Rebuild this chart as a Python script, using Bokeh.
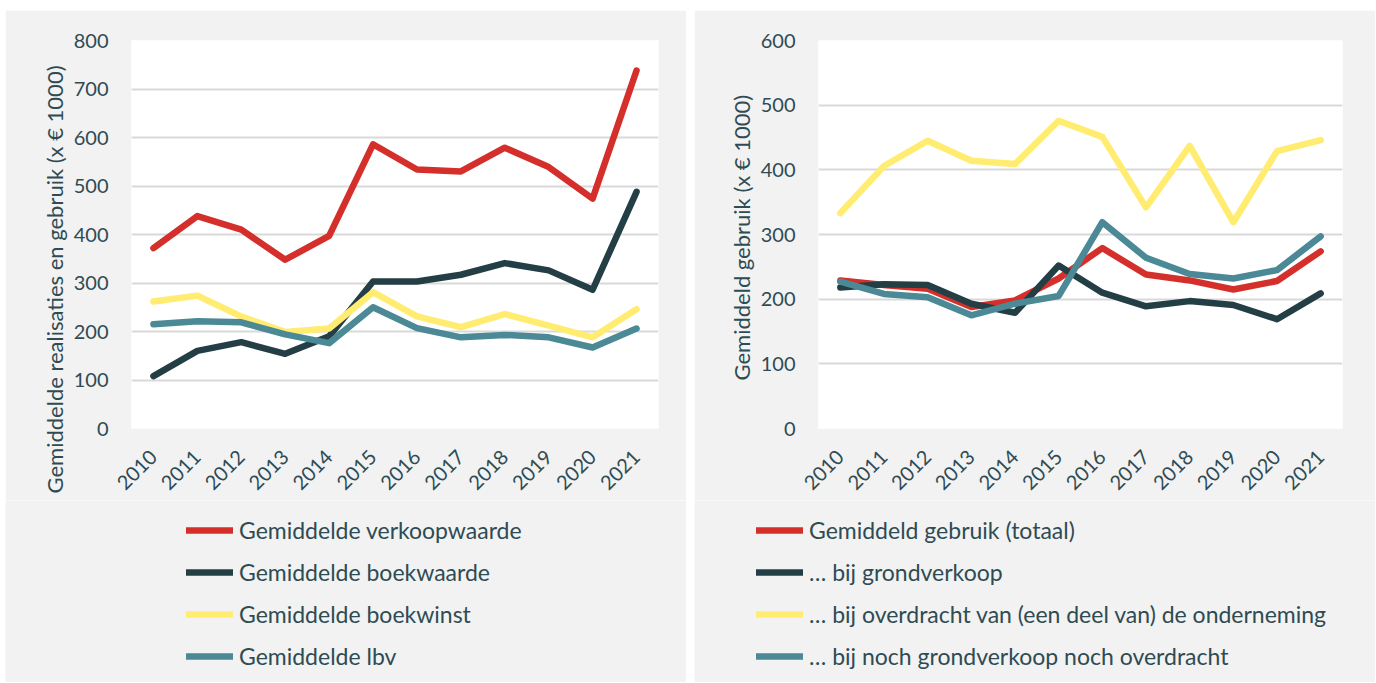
import math
from bokeh.plotting import figure
from bokeh.models import Legend, LegendItem, Title, Range1d, FactorRange
from bokeh.layouts import row
from bokeh.embed import file_html
from bokeh.resources import INLINE

years = ["2010", "2011", "2012", "2013", "2014", "2015", "2016", "2017", "2018", "2019", "2020", "2021"]

# Left chart: realisaties
verkoopwaarde = [372, 438, 410, 348, 397, 586, 534, 530, 579, 539, 474, 738]
boekwaarde = [108, 160, 178, 154, 190, 303, 303, 317, 341, 326, 286, 488]
boekwinst = [262, 274, 231, 199, 206, 281, 231, 209, 236, 212, 188, 246]
lbv = [215, 221, 219, 194, 176, 250, 207, 188, 193, 188, 167, 206]

# Right chart: gebruik
gebruik_totaal = [229, 222, 216, 188, 198, 232, 279, 238, 229, 215, 228, 274]
gebruik_grondverkoop = [218, 223, 222, 193, 179, 252, 210, 189, 197, 191, 169, 209]
gebruik_overdracht = [333, 406, 445, 414, 409, 476, 451, 342, 437, 319, 429, 446]
gebruik_noch = [227, 208, 203, 175, 193, 205, 319, 264, 239, 232, 245, 297]

left_labels = ["Gemiddelde verkoopwaarde", "Gemiddelde boekwaarde", "Gemiddelde boekwinst", "Gemiddelde lbv"]
right_labels = ["Gemiddeld gebruik (totaal)", "\u2026 bij grondverkoop",
                "\u2026 bij overdracht van (een deel van) de onderneming",
                "\u2026 bij noch grondverkoop noch overdracht"]

COLORS = ["#d42f2b", "#233f45", "#ffec70", "#4a8995"]
TEXT = "#2f4b53"
BG = "#f2f2f2"
FONT = "Lato"
LINE_W = 6.5


def make_chart(series, ymax, ytitle, border_left, border_right, title_offset):
    p = figure(x_range=FactorRange(*years), y_range=Range1d(0, ymax),
               width=681, height=490, output_backend="svg", toolbar_location=None,
               min_border_left=border_left, min_border_right=border_right,
               min_border_top=30, min_border_bottom=72)
    p.background_fill_color = "white"
    p.border_fill_color = BG
    p.outline_line_color = None
    p.xgrid.grid_line_color = None
    p.ygrid.grid_line_color = "#d9d9d9"
    p.ygrid.grid_line_width = 2
    p.yaxis.ticker = list(range(0, ymax + 1, 100))
    for ax in (p.xaxis[0], p.yaxis[0]):
        ax.axis_line_color = None
        ax.major_tick_line_color = None
        ax.minor_tick_line_color = None
        ax.major_label_text_color = TEXT
        ax.major_label_text_font = FONT
    p.yaxis.major_label_text_font_size = "20px"
    p.xaxis.major_label_text_font_size = "20px"
    p.yaxis.major_label_standoff = 17
    p.xaxis.major_label_orientation = math.pi / 4
    p.xaxis.major_label_standoff = 19

    for vals, col in zip(series, COLORS):
        p.line(years, vals, line_color=col, line_width=LINE_W,
               line_join="round", line_cap="round")
    t = Title(text=ytitle, align="left", offset=title_offset, standoff=6,
              text_font=FONT, text_font_size="22px", text_font_style="normal",
              text_color=TEXT)
    p.add_layout(t, "left")
    return p


def make_legend(series, labels, legend_x):
    # Legend-only panel: the series are drawn far outside the visible y range,
    # so only the legend swatches and labels show.
    q = figure(x_range=FactorRange(*years), y_range=Range1d(-2, -1), width=681, height=182,
               output_backend="svg", toolbar_location=None,
               x_axis_type=None, y_axis_type=None,
               min_border_left=0, min_border_right=0, min_border_top=0, min_border_bottom=0)
    q.background_fill_color = BG
    q.border_fill_color = BG
    q.outline_line_color = None
    q.xgrid.grid_line_color = None
    q.ygrid.grid_line_color = None
    items = []
    for vals, lab, col in zip(series, labels, COLORS):
        r = q.line(years, vals, line_color=col, line_width=LINE_W,
                   line_join="round", line_cap="round")
        items.append(LegendItem(label=lab, renderers=[r]))
    leg = Legend(items=items, location=(legend_x, 12), orientation="vertical",
                 glyph_width=47, glyph_height=24, label_height=24, spacing=14,
                 label_standoff=6, padding=0, margin=0,
                 border_line_color=None, background_fill_alpha=0,
                 label_text_font=FONT, label_text_font_size="23px",
                 label_text_color=TEXT)
    q.add_layout(leg, "center")
    return q


left_series = [verkoopwaarde, boekwaarde, boekwinst, lbv]
right_series = [gebruik_totaal, gebruik_grondverkoop, gebruik_overdracht, gebruik_noch]

p1 = make_chart(left_series, 800, "Gemiddelde realisaties en gebruik (x \u20ac 1000)", 126, 28, -65)
p2 = make_chart(right_series, 600, "Gemiddeld gebruik (x \u20ac 1000)", 124, 33, 48)
l1 = make_legend(left_series, left_labels, 181)
l2 = make_legend(right_series, right_labels, 62)

top = row(p1, p2, spacing=8, margin=(10, 0, 0, 5))
bottom = row(l1, l2, spacing=8, margin=(0, 0, 0, 5))
open("out.html", "w").write(file_html([top, bottom], INLINE))
